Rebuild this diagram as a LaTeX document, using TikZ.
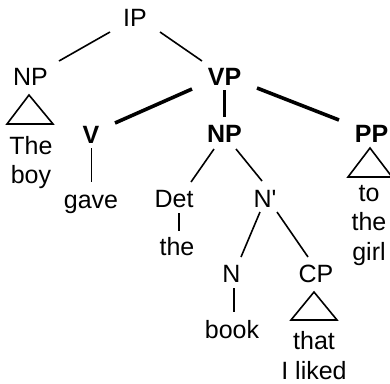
\documentclass[tikz,border=0pt]{standalone}
\usepackage{fontspec}
\setmainfont{Liberation Sans}
\begin{document}
\begin{tikzpicture}[x=1pt,y=-1pt,
  lab/.style={font=\fontsize{25}{29.5}\selectfont, inner sep=0pt, anchor=base},
  blab/.style={font=\fontsize{25}{29.5}\selectfont\bfseries, inner sep=0pt, anchor=base},
  words/.style={font=\fontsize{25}{29.5}\selectfont, align=center, inner sep=0pt, anchor=base},
  edgeA/.style={line width=1.6pt},
  edgeB/.style={line width=3.6pt},
  tri/.style={line width=1.6pt, line join=miter}]
\useasboundingbox (0,0) rectangle (390,383);
% nodes (placed at their baselines; multi-line nodes at their last line)
\node[lab]  (IP)   at (135,26)   {IP};
\node[lab]  (NPa)  at (30.5,85)  {NP};
\node[blab] (VP)   at (224.5,85) {VP};
\node[blab] (V)    at (91,143)   {V};
\node[blab] (NPb)  at (224.5,142) {NP};
\node[blab] (PP)   at (371.5,142) {PP};
\node[lab]  (gave) at (91,208)   {gave};
\node[lab]  (Det)  at (174,207)  {Det};
\node[lab]  (Nbar) at (265,207)  {N\textquotesingle};
\node[lab]  (the)  at (177,255)  {the};
\node[lab]  (N)    at (231.5,282) {N};
\node[lab]  (CP)   at (316,282)  {CP};
\node[lab]  (book) at (232,338)  {book};
\node[words] (boy)   at (31,183.5) {The\\boy};
\node[words] (girl)  at (369,260)  {to\\the\\girl};
\node[words] (liked) at (314,379)  {that\\I liked};
% edges
\draw[edgeA] ([shift={(-25,6)}]IP.base) -- ([shift={(28.5,-24)}]NPa.base);
\draw[edgeA] ([shift={(25,6)}]IP.base) -- ([shift={(-22.5,-24)}]VP.base);
\draw[edgeB] ([shift={(-32.5,4)}]VP.base) -- ([shift={(24,-20)}]V.base);
\draw[edgeB] ([shift={(0,5)}]VP.base) -- ([shift={(0,-25)}]NPb.base);
\draw[edgeB] ([shift={(32.5,3)}]VP.base) -- ([shift={(-32.5,-22)}]PP.base);
\draw[edgeA] ([shift={(0.5,5)}]V.base) -- ([shift={(0.5,-26)}]gave.base);
\draw[edgeA] ([shift={(-10.5,7)}]NPb.base) -- ([shift={(17,-25)}]Det.base);
\draw[edgeA] ([shift={(11.5,7)}]NPb.base) -- ([shift={(-3,-26)}]Nbar.base);
\draw[edgeA] ([shift={(5,6)}]Det.base) -- ([shift={(2,-24)}]the.base);
\draw[edgeA] ([shift={(-5,5)}]Nbar.base) -- ([shift={(9.5,-25)}]N.base);
\draw[edgeA] ([shift={(12,5)}]Nbar.base) -- ([shift={(-8,-25)}]CP.base);
\draw[edgeA] ([shift={(2.5,6)}]N.base) -- ([shift={(2,-26)}]book.base);
% triangles
\draw[tri] ([shift={(-1.5,10)}]NPa.base) -- ([shift={(-23.5,39)}]NPa.base) -- ([shift={(22.5,39)}]NPa.base) -- cycle;
\draw[tri] ([shift={(-1.5,6)}]PP.base) -- ([shift={(-23.5,35)}]PP.base) -- ([shift={(20.5,35)}]PP.base) -- cycle;
\draw[tri] ([shift={(-2,10)}]CP.base) -- ([shift={(-25,38)}]CP.base) -- ([shift={(21,38)}]CP.base) -- cycle;
\end{tikzpicture}
\end{document}
